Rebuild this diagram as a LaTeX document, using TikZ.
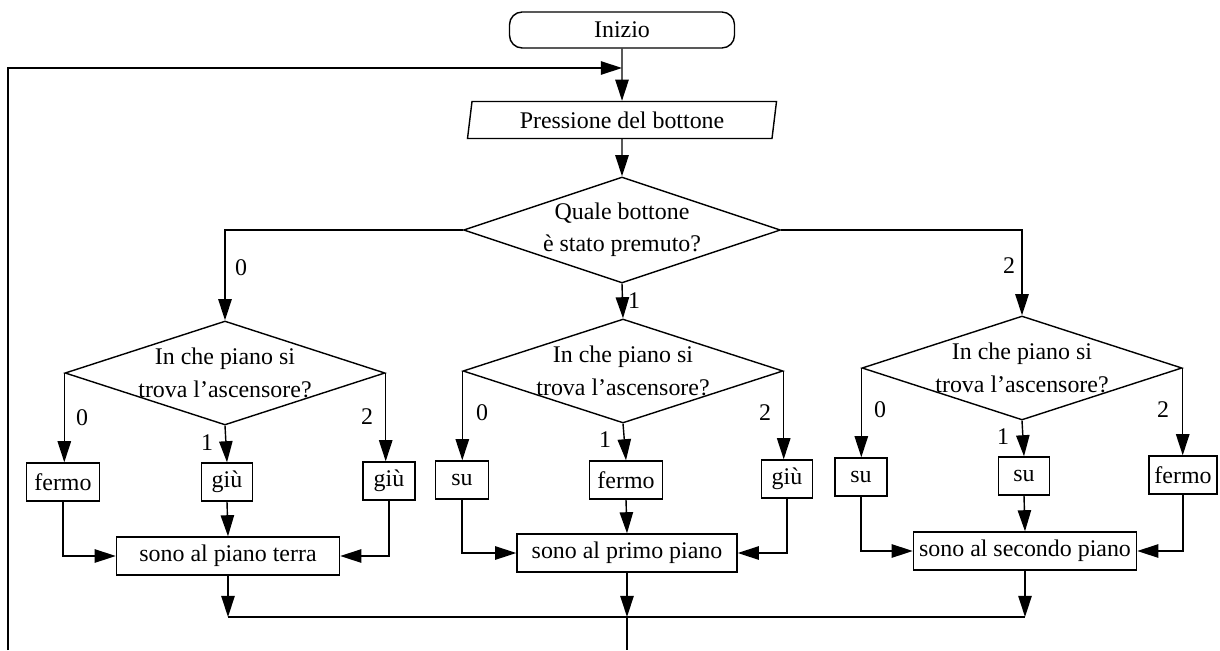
\documentclass[tikz,border=0pt]{standalone}
\usepackage{fontspec}
\setmainfont{Liberation Serif}
\usetikzlibrary{arrows.meta,shapes.geometric}
\def\u{0.025cm}
\begin{document}
\begin{tikzpicture}[x=0.025cm,y=-0.025cm,line width=1pt,
  every node/.style={font=\fontsize{17}{23}\selectfont},
  arr/.style={-{Triangle[length=15pt,width=9.5pt]}},
  startbox/.style={draw,rounded corners=9pt,minimum width=225*\u,minimum height=36*\u,inner sep=0pt},
  iobox/.style={draw,trapezium,trapezium left angle=75,trapezium right angle=105,trapezium stretches body,minimum width=309*\u,minimum height=37*\u,inner sep=0pt},
  dia/.style={draw,diamond,aspect=3,align=center,inner sep=-4pt,minimum width=320*\u,minimum height=104*\u},
  box/.style={draw,inner sep=0pt,minimum height=38*\u},
  lab/.style={inner sep=0pt}]
\useasboundingbox (0,0) rectangle (1220,650);
\fill[white] (0,0) rectangle (1220,650);

% top
\node[startbox] (start) at (622,30) {Inizio};
\node[iobox] (input) at (622,120) {Pressione del bottone};
\node[dia,minimum width=317*\u,minimum height=106*\u] (d0) at (622,230) {Quale bottone\\è stato premuto?};

% sub diamonds
\node[dia] (dl) at (225,373) {In che piano si\\trova l’ascensore?};
\node[dia] (dm) at (623,371) {In che piano si\\trova l’ascensore?};
\node[dia] (dr) at (1022,368) {In che piano si\\trova l’ascensore?};

% left group
\node[box,minimum width=73*\u] (l0) at (63,482) {fermo};
\node[box,minimum width=51*\u] (l1) at (227,482) {giù};
\node[box,minimum width=52*\u] (l2) at (389,481) {giù};
\node[box,minimum width=223*\u] (lt) at (228,556) {sono al piano terra};
% middle group
\node[box,minimum width=53*\u] (m0) at (462,480) {su};
\node[box,minimum width=73*\u] (m1) at (626,480) {fermo};
\node[box,minimum width=51*\u] (m2) at (787,479) {giù};
\node[box,minimum width=220*\u] (mt) at (627,553) {sono al primo piano};
% right group
\node[box,minimum width=52*\u] (r0) at (861,477) {su};
\node[box,minimum width=51*\u] (r1) at (1024,476) {su};
\node[box,minimum width=68*\u] (r2) at (1183,475) {fermo};
\node[box,minimum width=223*\u] (rt) at (1025,551) {sono al secondo piano};

% coordinates
\coordinate (join) at (622,68);
\coordinate (loopT) at (8,68);
\coordinate (loopB) at (8,650);
\coordinate (bot) at (625,617);
\coordinate (exit) at (625,650);

% main flow
\draw[arr] (loopB) -- (loopT) -- (join);
\draw[arr] (start.south) -- (input.north);
\draw[arr] (input.south) -- (d0.north);
\draw[arr] (d0.west) -| (dl.north);
\draw[arr] (d0.south) -- (dm.north);
\draw[arr] (d0.east) -| (dr.north);

% left sub
\draw[arr] (dl.west) -- (dl.west |- l0.north);
\draw[arr] (dl.south) -- (l1.north);
\draw[arr] (dl.east) -- (dl.east |- l2.north);
\draw[arr] (l0.south) |- (lt.west);
\draw[arr] (l1.south) -- (lt.north);
\draw[arr] (l2.south) |- (lt.east);
% middle sub
\draw[arr] (dm.west) -- (dm.west |- m0.north);
\draw[arr] (dm.south) -- (m1.north);
\draw[arr] (dm.east) -- (dm.east |- m2.north);
\draw[arr] (m0.south) |- (mt.west);
\draw[arr] (m1.south) -- (mt.north);
\draw[arr] (m2.south) |- (mt.east);
% right sub
\draw[arr] (dr.west) -- (dr.west |- r0.north);
\draw[arr] (dr.south) -- (r1.north);
\draw[arr] (dr.east) -- (dr.east |- r2.north);
\draw[arr] (r0.south) |- (rt.west);
\draw[arr] (r1.south) -- (rt.north);
\draw[arr] (r2.south) |- (rt.east);

% collector
\draw[arr] (lt.south) -- (lt.south |- bot);
\draw[arr] (mt.south) -- (mt.south |- bot);
\draw[arr] (rt.south) -- (rt.south |- bot);
\draw (lt.south |- bot) -- (rt.south |- bot);
\draw (mt.south |- bot) -- (mt.south |- exit);

% labels
\node[lab] (a0) at (241,268) {0};
\node[lab] (a1) at (634,301) {1};
\node[lab] (a2) at (1009,266) {2};
\node[lab] (b0) at (82,418) {0};
\node[lab] (b1) at (207,443) {1};
\node[lab] (b2) at (367,417) {2};
\node[lab] (c0) at (482,413) {0};
\node[lab] (c1) at (605,440) {1};
\node[lab] (c2) at (765,413) {2};
\node[lab] (e0) at (880,410) {0};
\node[lab] (e1) at (1003,437) {1};
\node[lab] (e2) at (1163,410) {2};
\end{tikzpicture}
\end{document}
